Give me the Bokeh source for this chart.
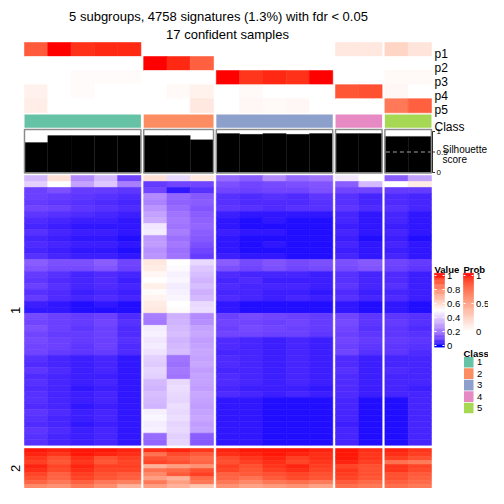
import numpy as np
from bokeh.plotting import figure
from bokeh.models import Range1d, ColumnDataSource
from bokeh.core.properties import value
from bokeh.embed import file_html
from bokeh.resources import INLINE

# ---------------- data ----------------
title_line1 = "5 subgroups, 4758 signatures (1.3%) with fdr < 0.05"
title_line2 = "17 confident samples"

class_labels = ["1", "2", "3", "4", "5"]
group_sizes = [5, 3, 5, 2, 2]
class_colors = ["#66C2A5", "#FC8D62", "#8DA0CB", "#E78AC3", "#A6D854"]

prob_names = ["p1", "p2", "p3", "p4", "p5"]
p1 = [0.80, 1.00, 0.93, 0.95, 0.95, 0, 0, 0, 0, 0, 0, 0, 0, 0.12, 0.12, 0.22, 0.14]
p2 = [0, 0, 0, 0, 0, 1.00, 0.95, 0.78, 0, 0, 0, 0, 0, 0, 0, 0, 0]
p3 = [0, 0, 0.02, 0.02, 0.02, 0, 0, 0, 1.00, 0.92, 0.95, 0.93, 1.00, 0, 0, 0.03, 0.03]
p4 = [0.07, 0, 0.02, 0, 0, 0, 0.03, 0.07, 0, 0.03, 0, 0, 0, 0.82, 0.84, 0.04, 0]
p5 = [0.09, 0, 0, 0, 0, 0, 0, 0.12, 0, 0.04, 0.03, 0.04, 0, 0, 0, 0.68, 0.78]

silhouette = [0.73, 0.90, 0.90, 0.90, 0.90, 0.90, 0.90, 0.80,
              0.95, 0.93, 0.95, 0.93, 0.95, 0.95, 0.95, 0.88, 0.88]
silhouette_ticks = [0, 0.5, 1]

slice_labels = ["1", "2"]

# heatmap values in percent, columns: class1 x5 | class2 x3 | class3 x5 | class4 x2 | class5 x2
slice1_rows = [
    [35, 58, 25, 35, 10,  58, 42, 56,  18, 15, 25, 18, 20,  45, 50,  15, 30],
    [40, 50, 30, 38, 22,  8, 10, 10,   12, 10, 11, 12, 13,  15, 35,  50, 55],
    [9, 12, 8, 8, 7,      10, 2, 6,    10, 9, 10, 10, 12,   10, 10,  8, 8],
    [9, 8, 7, 6, 5,       25, 17, 14,  6, 5, 6, 5, 7,       6, 4,    5, 4],
    [8, 7, 6, 5, 4,       23, 16, 15,  6, 5, 5, 5, 6,       6, 4,    5, 4],
    [10, 9, 7, 6, 5,      27, 18, 13,  7, 6, 5, 6, 6,       7, 5,    6, 4],
    [7, 6, 5, 4, 3,       30, 20, 15,  3, 2, 2, 2, 2,       4, 2,    4, 2],
    [5, 4, 3, 3, 2,       32, 21, 16,  2, 1, 2, 1, 1,       4, 2,    4, 2],
    [4, 3, 2, 2, 2,       45, 20, 17,  2, 1, 1, 1, 1,       3, 2,    3, 2],
    [6, 4, 3, 3, 2,       46, 22, 15,  3, 2, 2, 1, 1,       4, 2,    4, 2],
    [4, 3, 2, 2, 1,       28, 19, 14,  2, 1, 1, 1, 1,       3, 1,    3, 1],
    [5, 4, 3, 3, 2,       29, 21, 12,  2, 1, 2, 1, 1,       4, 2,    4, 2],
    [4, 3, 2, 2, 1,       26, 19, 10,  2, 1, 1, 1, 1,       3, 2,    3, 2],
    [6, 4, 3, 3, 2,       27, 20, 8,   3, 2, 2, 1, 1,       4, 2,    4, 2],
    [15, 12, 12, 15, 10,  56, 50, 42,  15, 11, 13, 11, 12,  12, 14,  10, 8],
    [13, 11, 11, 13, 9,   55, 49, 38,  12, 10, 12, 10, 11,  11, 13,  9, 7],
    [8, 6, 4, 5, 4,       52, 47, 36,  5, 4, 4, 4, 3,       6, 4,    5, 3],
    [7, 5, 4, 5, 3,       50, 48, 34,  4, 5, 3, 3, 3,       6, 4,    5, 3],
    [9, 6, 4, 5, 4,       54, 46, 36,  5, 4, 4, 4, 3,       7, 4,    6, 3],
    [6, 5, 3, 4, 3,       51, 47, 33,  4, 4, 3, 3, 2,       5, 3,    4, 3],
    [8, 5, 4, 5, 4,       53, 48, 35,  5, 4, 3, 4, 3,       6, 4,    5, 3],
    [3, 2, 1, 2, 1,       55, 50, 42,  2, 1, 1, 1, 1,       2, 1,    2, 1],
    [2, 2, 1, 1, 1,       56, 51, 43,  2, 1, 1, 1, 1,       2, 1,    2, 1],
    [11, 9, 8, 9, 5,      22, 33, 25,  9, 11, 10, 9, 8,     10, 7,   7, 6],
    [10, 9, 8, 10, 6,     21, 34, 26,  10, 10, 9, 10, 8,    11, 7,   8, 6],
    [12, 9, 7, 9, 5,      46, 35, 30,  9, 11, 10, 9, 8,     10, 6,   7, 5],
    [10, 8, 8, 9, 5,      47, 36, 31,  10, 10, 9, 9, 7,     9, 7,    7, 6],
    [11, 9, 8, 9, 6,      45, 34, 29,  5, 4, 3, 4, 3,       10, 8,   8, 7],
    [10, 9, 7, 9, 5,      46, 35, 30,  5, 4, 3, 4, 3,       9, 7,    7, 6],
    [10, 8, 7, 8, 5,      44, 36, 31,  4, 4, 3, 4, 3,       10, 6,   7, 5],
    [6, 4, 3, 4, 2,       40, 20, 30,  5, 4, 3, 4, 3,       5, 3,    4, 4],
    [5, 4, 3, 4, 2,       39, 19, 31,  5, 4, 3, 4, 3,       5, 3,    4, 4],
    [7, 5, 3, 4, 2,       41, 21, 29,  4, 4, 3, 4, 3,       6, 3,    5, 4],
    [5, 4, 3, 3, 2,       40, 20, 30,  5, 4, 3, 4, 3,       5, 3,    4, 4],
    [6, 4, 3, 4, 2,       35, 42, 30,  5, 4, 3, 4, 3,       5, 3,    4, 4],
    [5, 4, 2, 3, 2,       34, 43, 29,  4, 3, 3, 3, 2,       5, 3,    4, 3],
    [6, 4, 3, 4, 2,       36, 42, 31,  5, 4, 3, 4, 3,       5, 3,    4, 4],
    [6, 4, 3, 4, 2,       35, 41, 30,  2, 2, 1, 1, 1,       4, 1,    1, 4],
    [5, 4, 2, 3, 2,       34, 43, 29,  2, 2, 1, 1, 1,       4, 1,    1, 4],
    [7, 5, 3, 4, 2,       47, 42, 30,  2, 2, 1, 1, 1,       4, 1,    1, 4],
    [6, 4, 3, 4, 2,       48, 43, 31,  2, 2, 1, 1, 1,       4, 1,    1, 4],
    [5, 4, 2, 3, 2,       46, 41, 29,  2, 2, 1, 1, 1,       3, 1,    1, 4],
    [7, 5, 3, 4, 2,       47, 42, 30,  2, 2, 1, 1, 1,       4, 1,    1, 4],
    [6, 4, 3, 4, 2,       18, 40, 15,  2, 2, 1, 1, 1,       4, 1,    1, 4],
    [6, 4, 3, 4, 2,       17, 41, 14,  2, 2, 1, 1, 1,       4, 1,    1, 4],
]

slice2_rows = [
    [99, 98, 99, 99, 98,  97, 98, 96,  98, 99, 99, 99, 98,  99, 97,  98, 96],
    [98, 96, 99, 98, 97,  85, 93, 90,  97, 98, 99, 98, 97,  99, 96,  97, 95],
    [96, 92, 97, 92, 95,  92, 90, 87,  93, 96, 98, 95, 97,  99, 96,  95, 92],
    [95, 91, 96, 91, 94,  94, 92, 88,  92, 95, 97, 94, 96,  98, 95,  85, 83],
    [98, 94, 98, 95, 95,  70, 75, 78,  95, 92, 96, 98, 95,  94, 92,  96, 94],
    [97, 93, 97, 94, 94,  85, 87, 92,  94, 91, 95, 97, 94,  96, 92,  96, 93],
    [94, 89, 95, 92, 90,  80, 90, 95,  89, 90, 92, 94, 92,  95, 92,  92, 90],
    [92, 88, 94, 91, 89,  75, 70, 87,  88, 85, 90, 93, 91,  94, 91,  92, 89],
    [88, 84, 89, 84, 82,  84, 75, 84,  84, 80, 84, 86, 83,  90, 87,  89, 87],
    [80, 78, 84, 79, 70,  75, 70, 65,  78, 74, 76, 78, 74,  86, 84,  86, 84],
]

value_ticks = [0, 0.2, 0.4, 0.6, 0.8, 1]
prob_ticks = [0, 0.5, 1]

# ---------------- colour ramps (LAB interpolation) ----------------
def _srgb_to_lab(hexcol):
    h = hexcol.lstrip("#")
    rgb = np.array([int(h[i:i + 2], 16) / 255.0 for i in (0, 2, 4)])
    lin = np.where(rgb <= 0.04045, rgb / 12.92, ((rgb + 0.055) / 1.055) ** 2.4)
    M = np.array([[0.4124, 0.3576, 0.1805], [0.2126, 0.7152, 0.0722], [0.0193, 0.1192, 0.9505]])
    xyz = M @ lin / np.array([0.95047, 1.0, 1.08883])
    f = np.where(xyz > 0.008856, np.cbrt(xyz), 7.787 * xyz + 16 / 116)
    return np.array([116 * f[1] - 16, 500 * (f[0] - f[1]), 200 * (f[1] - f[2])])


def _lab_to_hex(lab):
    L, a, b = lab
    fy = (L + 16) / 116
    fx = fy + a / 500
    fz = fy - b / 200
    f = np.array([fx, fy, fz])
    xyz = np.where(f ** 3 > 0.008856, f ** 3, (f - 16 / 116) / 7.787) * np.array([0.95047, 1.0, 1.08883])
    Minv = np.array([[3.2406, -1.5372, -0.4986], [-0.9689, 1.8758, 0.0415], [0.0557, -0.2040, 1.0570]])
    lin = np.clip(Minv @ xyz, 0, 1)
    rgb = np.where(lin <= 0.0031308, 12.92 * lin, 1.055 * lin ** (1 / 2.4) - 0.055)
    rgb = np.clip(np.round(rgb * 255), 0, 255).astype(int)
    return "#%02x%02x%02x" % tuple(rgb)


def make_ramp(breaks, colors):
    labs = [_srgb_to_lab(c) for c in colors]

    def f(v):
        v = min(max(v, breaks[0]), breaks[-1])
        for i in range(len(breaks) - 1):
            if v <= breaks[i + 1]:
                t = (v - breaks[i]) / (breaks[i + 1] - breaks[i])
                return _lab_to_hex(labs[i] * (1 - t) + labs[i + 1] * t)
        return _lab_to_hex(labs[-1])
    return f


value_col = make_ramp([0, 0.5, 1], ["#0000FF", "#FFFFFF", "#FF0000"])
prob_col = make_ramp([0, 1], ["#FFFFFF", "#FF0000"])

# ---------------- layout ----------------
FONT = value("Liberation Sans")
X0, CW, GAP = 24.0, 23.28, 2.8
col_group = []
for gi, n in enumerate(group_sizes):
    col_group += [gi] * n
col_left = [X0 + i * CW + gi * GAP for i, gi in enumerate(col_group)]
col_right = [l + CW for l in col_left]
grp_left = [col_left[col_group.index(g)] for g in range(5)]
grp_right = [col_right[len(col_group) - 1 - col_group[::-1].index(g)] for g in range(5)]

p = figure(width=488, height=488, x_range=Range1d(0, 488), y_range=Range1d(488, 0),
           output_backend="svg", toolbar_location=None, min_border=0,
           x_axis_location=None, y_axis_location=None)
p.grid.visible = False
p.outline_line_color = None
p.background_fill_color = "white"


def cells(lefts, rights, tops, bottoms, colors, lw=0.6):
    src = ColumnDataSource(dict(left=lefts, right=rights, top=tops, bottom=bottoms, c=colors))
    p.quad(left="left", right="right", top="top", bottom="bottom", fill_color="c",
           line_color="c", line_width=lw, source=src)


# title
p.text(x=[218], y=[15.5], text=[title_line1], text_font=FONT, text_font_size="13px",
       text_align="center", text_baseline="alphabetic", text_color="black")
p.text(x=[227], y=[34], text=[title_line2], text_font=FONT, text_font_size="13px",
       text_align="center", text_baseline="alphabetic", text_color="black")

# probability rows
PT, PH = 42.0, 14.06
L, R, T, B, C = [], [], [], [], []
for ri, row in enumerate([p1, p2, p3, p4, p5]):
    for ci, v in enumerate(row):
        L.append(col_left[ci]); R.append(col_right[ci])
        T.append(PT + ri * PH); B.append(PT + (ri + 1) * PH); C.append(prob_col(v))
cells(L, R, T, B, C)
p.text(x=[434] * 5, y=[PT + (i + 0.5) * PH + 4.5 for i in range(5)], text=prob_names,
       text_font=FONT, text_font_size="12px", text_baseline="alphabetic", text_color="black")

# class row
cells(grp_left, grp_right, [114.0] * 5, [127.3] * 5, class_colors, lw=0)
p.text(x=[434], y=[126], text=["Class"], text_font=FONT, text_font_size="12px",
       text_baseline="alphabetic", text_color="black")

# silhouette
SY0, SH = 172.0, 41.0
sy = lambda v: SY0 - SH * v
cells(col_left, col_right, [sy(v) for v in silhouette], [SY0] * 17, ["black"] * 17, lw=0.3)
p.quad(left=grp_left, right=grp_right, top=[128.9] * 5, bottom=[172.6] * 5,
       fill_color=None, line_color="#8c8c8c", line_width=1.5)
p.line(x=[grp_left[4] + 1, grp_right[4] - 1], y=[sy(0.5), sy(0.5)], line_color="#a0a0a0",
       line_dash="4 3", line_width=1.2)
p.line(x=[432, 432], y=[sy(1), sy(0)], line_color="black", line_width=0.8)
p.segment(x0=[432] * 3, x1=[434.5] * 3, y0=[sy(v) for v in silhouette_ticks],
          y1=[sy(v) for v in silhouette_ticks], line_color="black", line_width=0.8)
p.text(x=[436] * 3, y=[sy(v) for v in silhouette_ticks], text=["%g" % v for v in silhouette_ticks],
       text_font=FONT, text_font_size="8px", text_baseline="middle", text_color="black")
p.text(x=[442, 442], y=[149, 159], text=["Silhouette", "score"], text_font=FONT,
       text_font_size="10px", text_baseline="alphabetic", text_color="black")

# heatmap slices
def draw_slice(rows, ytop, ybot):
    h = (ybot - ytop) / len(rows)
    L, R, T, B, C = [], [], [], [], []
    for ri, row in enumerate(rows):
        for ci, v in enumerate(row):
            L.append(col_left[ci]); R.append(col_right[ci])
            T.append(ytop + ri * h); B.append(ytop + (ri + 1) * h); C.append(value_col(v / 100))
    cells(L, R, T, B, C)

draw_slice(slice1_rows, 175.0, 444.7)
draw_slice(slice2_rows, 448.0, 488.0)

p.text(x=[15, 15], y=[310, 468], text=slice_labels, angle=np.pi / 2, text_font=FONT,
       text_font_size="13px", text_align="center", text_baseline="alphabetic", text_color="black")

# legends
def grad_bar(x0, x1, ytop, ybot, y_at0, span, ramp, ticks):
    n = 60
    ys = np.linspace(ytop, ybot, n + 1)
    L, R, T, B, C = [], [], [], [], []
    for i in range(n):
        ym = (ys[i] + ys[i + 1]) / 2
        v = (y_at0 - ym) / span
        L.append(x0); R.append(x1); T.append(ys[i]); B.append(ys[i + 1]); C.append(ramp(v))
    cells(L, R, T, B, C, lw=0.4)
    tys = [y_at0 - span * t for t in ticks]
    p.segment(x0=[x0] * len(ticks) + [x1 - 2] * len(ticks), x1=[x0 + 2] * len(ticks) + [x1] * len(ticks),
              y0=tys + tys, y1=tys + tys, line_color="white", line_width=1)
    p.text(x=[x1 + 2.5] * len(ticks), y=tys, text=["%g" % t for t in ticks], text_font=FONT,
           text_font_size="9.5px", text_baseline="middle", text_color="black")

p.text(x=[434, 463], y=[269, 269], text=["Value", "Prob"], text_font=FONT, text_font_size="9.5px",
       text_font_style="bold", text_baseline="alphabetic", text_color="black")
grad_bar(434, 444, 272.7, 346.7, 345.0, 70.0, value_col, value_ticks)
grad_bar(463, 473, 272.7, 333.0, 331.0, 56.0, prob_col, prob_ticks)

p.text(x=[463], y=[352.5], text=["Class"], text_font=FONT, text_font_size="9.5px",
       text_font_style="bold", text_baseline="alphabetic", text_color="black")
ktop, kh = 356.0, 11.45
p.quad(left=[463.5] * 5, right=[473] * 5, top=[ktop + i * kh + 0.4 for i in range(5)],
       bottom=[ktop + (i + 1) * kh - 0.4 for i in range(5)], fill_color=class_colors, line_color=None)
p.text(x=[476.5] * 5, y=[ktop + (i + 0.5) * kh for i in range(5)], text=class_labels, text_font=FONT,
       text_font_size="9.5px", text_baseline="middle", text_color="black")

open("out.html", "w").write(file_html(p, INLINE))
